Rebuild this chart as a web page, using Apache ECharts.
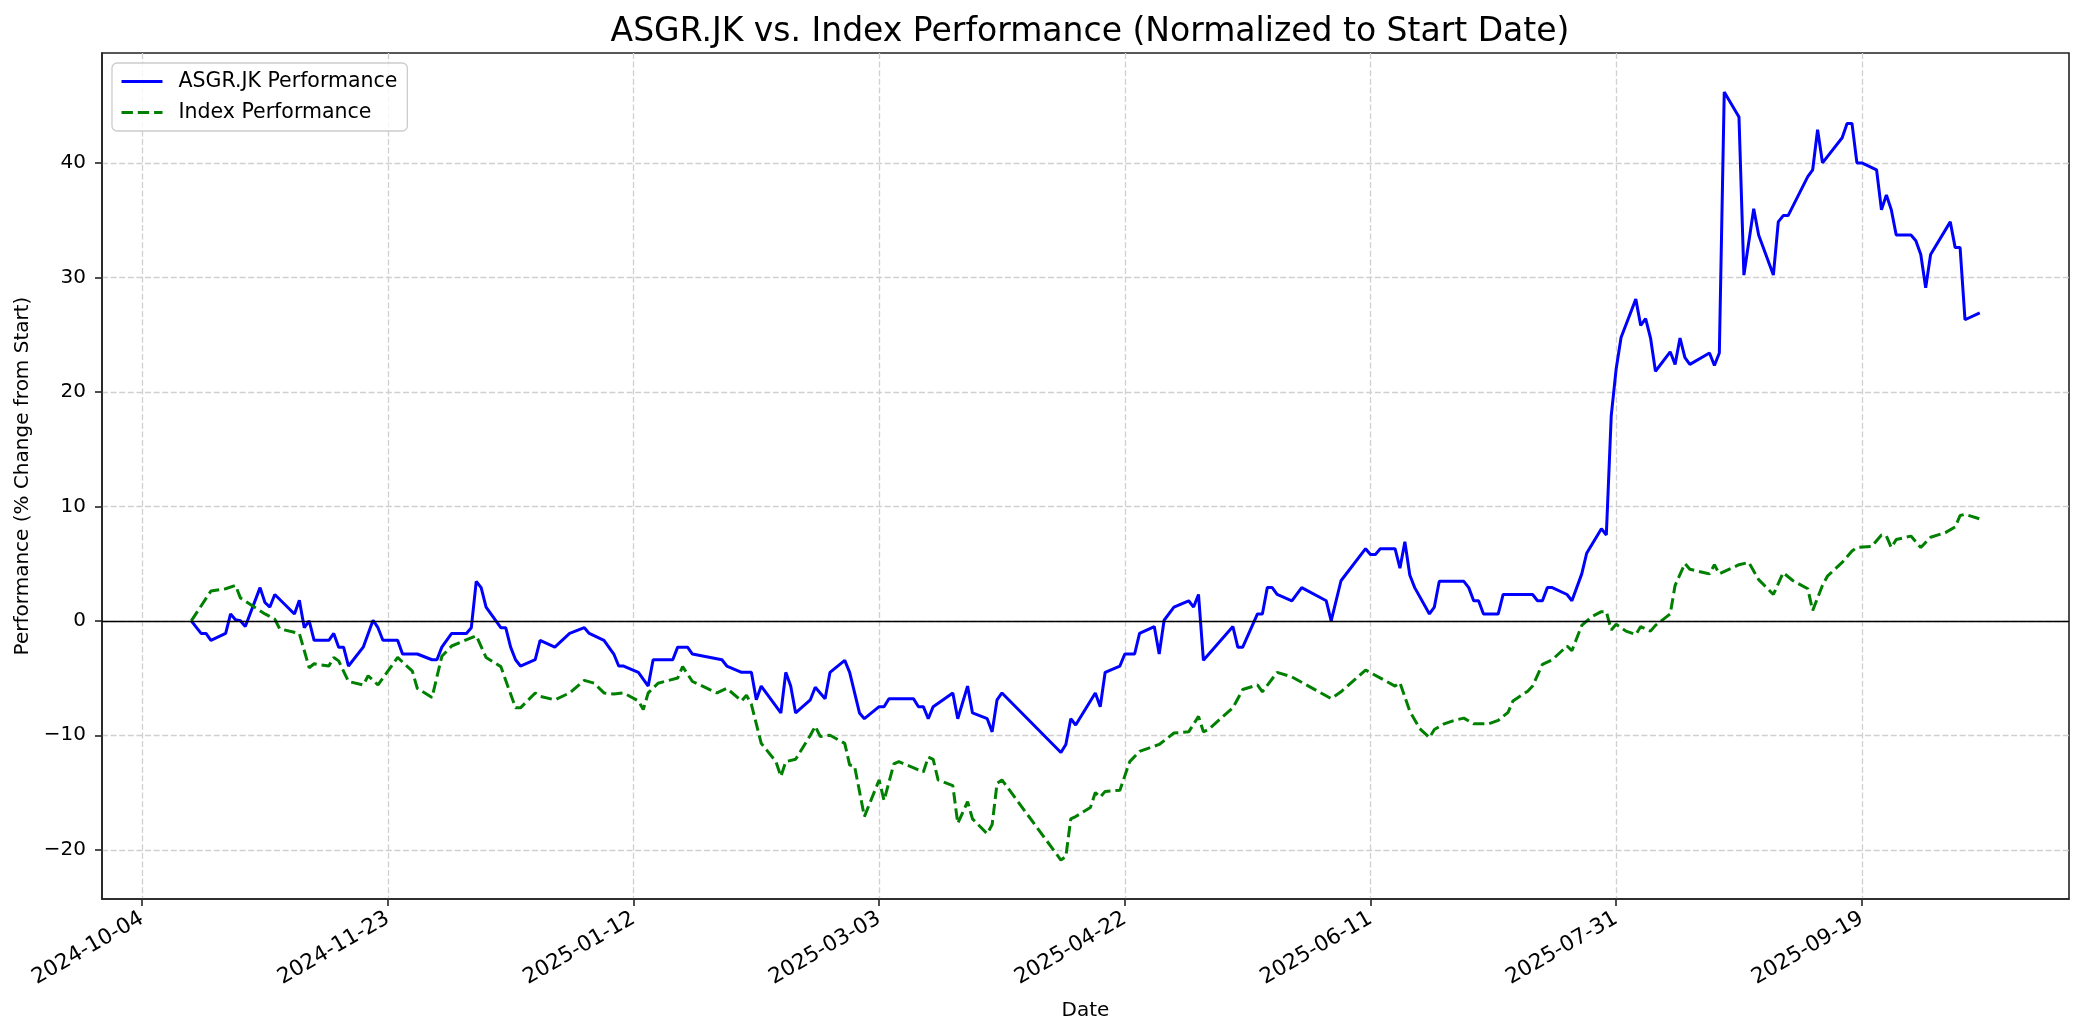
<!DOCTYPE html>
<html><head><meta charset="utf-8">
<script src="https://cdn.jsdelivr.net/npm/echarts@6/dist/echarts.min.js"></script>
<style>html,body{margin:0;padding:0;background:#fff}#c{width:2084px;height:1035px}</style>
</head><body><div id="c"></div>
<script>
const asgrDates = [
'2024-10-14','2024-10-16','2024-10-17','2024-10-18','2024-10-21','2024-10-22','2024-10-23','2024-10-24','2024-10-25','2024-10-28','2024-10-29','2024-10-30','2024-10-31',
'2024-11-04','2024-11-05','2024-11-06','2024-11-07','2024-11-08','2024-11-11','2024-11-12','2024-11-13','2024-11-14','2024-11-15','2024-11-18','2024-11-20','2024-11-21','2024-11-22','2024-11-25','2024-11-26','2024-11-29',
'2024-12-02','2024-12-03','2024-12-04','2024-12-06','2024-12-09','2024-12-10','2024-12-11','2024-12-12','2024-12-13','2024-12-16','2024-12-17','2024-12-18','2024-12-19','2024-12-20','2024-12-23','2024-12-24','2024-12-27','2024-12-30',
'2025-01-02','2025-01-03','2025-01-06','2025-01-08','2025-01-09','2025-01-10','2025-01-13','2025-01-15','2025-01-16','2025-01-20','2025-01-21','2025-01-23','2025-01-24','2025-01-30','2025-01-31',
'2025-02-03','2025-02-05','2025-02-06','2025-02-07','2025-02-11','2025-02-12','2025-02-13','2025-02-14','2025-02-17','2025-02-18','2025-02-20','2025-02-21','2025-02-24','2025-02-25','2025-02-27','2025-02-28',
'2025-03-03','2025-03-04','2025-03-05','2025-03-10','2025-03-11','2025-03-12','2025-03-13','2025-03-14','2025-03-18','2025-03-19','2025-03-21','2025-03-22','2025-03-25','2025-03-26','2025-03-27','2025-03-28',
'2025-04-09','2025-04-10','2025-04-11','2025-04-12','2025-04-16','2025-04-17','2025-04-18','2025-04-21','2025-04-22','2025-04-24','2025-04-25','2025-04-28','2025-04-29','2025-04-30',
'2025-05-02','2025-05-05','2025-05-06','2025-05-07','2025-05-08','2025-05-14','2025-05-15','2025-05-16','2025-05-19','2025-05-20','2025-05-21','2025-05-22','2025-05-23','2025-05-26','2025-05-28',
'2025-06-02','2025-06-03','2025-06-05','2025-06-10','2025-06-11','2025-06-12','2025-06-13','2025-06-16','2025-06-17','2025-06-18','2025-06-19','2025-06-20','2025-06-23','2025-06-24','2025-06-25','2025-06-30',
'2025-07-01','2025-07-02','2025-07-03','2025-07-04','2025-07-07','2025-07-08','2025-07-14','2025-07-15','2025-07-16','2025-07-17','2025-07-18','2025-07-21','2025-07-22','2025-07-24','2025-07-25','2025-07-28','2025-07-29','2025-07-30','2025-07-31',
'2025-08-01','2025-08-04','2025-08-05','2025-08-06','2025-08-07','2025-08-08','2025-08-11','2025-08-12','2025-08-13','2025-08-14','2025-08-15','2025-08-19','2025-08-20','2025-08-21','2025-08-22','2025-08-25','2025-08-26','2025-08-28','2025-08-29',
'2025-09-01','2025-09-02','2025-09-03','2025-09-04','2025-09-08','2025-09-09','2025-09-10','2025-09-11','2025-09-15','2025-09-16','2025-09-17','2025-09-18','2025-09-19','2025-09-22','2025-09-23','2025-09-24','2025-09-25','2025-09-26','2025-09-29','2025-09-30',
'2025-10-01','2025-10-02','2025-10-03','2025-10-07','2025-10-08','2025-10-09','2025-10-10','2025-10-13'
];
const asgrValues = [
0,-1.1,-1.1,-1.7,-1.1,0.6,0.1,0,-0.5,2.9,1.6,1.2,2.3,
0.6,1.8,-0.6,0,-1.7,-1.7,-1.1,-2.3,-2.3,-3.95,-2.3,0.05,-0.6,-1.7,-1.7,-2.9,-2.9,
-3.4,-3.4,-2.3,-1.1,-1.1,-0.6,3.45,2.9,1.2,-0.6,-0.6,-2.3,-3.4,-3.95,-3.4,-1.7,-2.3,-1.1,
-0.6,-1.1,-1.7,-2.9,-3.95,-3.95,-4.5,-5.7,-3.4,-3.4,-2.3,-2.3,-2.9,-3.4,-3.95,
-4.5,-4.5,-6.9,-5.7,-8.05,-4.5,-5.7,-8.05,-6.9,-5.8,-6.8,-4.5,-3.45,-4.5,-8.05,-8.55,
-7.5,-7.5,-6.8,-6.8,-7.5,-7.5,-8.55,-7.5,-6.3,-8.55,-5.7,-8.05,-8.55,-9.7,-6.9,-6.3,
-11.5,-10.8,-8.55,-9.1,-6.3,-7.5,-4.5,-3.95,-2.9,-2.9,-1.1,-0.5,-2.9,0.05,
1.2,1.75,1.2,2.3,-3.45,-0.5,-2.3,-2.3,0.6,0.6,2.9,2.9,2.3,1.75,2.9,
1.75,0,3.5,6.3,5.8,5.8,6.3,6.3,4.6,6.9,4.0,2.9,0.6,1.2,3.45,3.45,
2.9,1.75,1.75,0.6,0.6,2.3,2.3,1.75,1.75,2.9,2.9,2.3,1.75,4.1,5.9,8.05,7.5,17.9,22.0,
24.75,28.1,25.8,26.4,24.7,21.8,23.5,22.4,24.7,23.0,22.4,23.4,22.3,23.4,46.2,44.0,30.2,36.0,33.7,
30.2,34.85,35.4,35.4,38.8,39.4,42.9,40.0,42.2,43.45,43.45,40.0,40.0,39.4,35.9,37.2,35.9,33.7,33.7,33.2,
32.0,29.1,32.0,34.85,32.6,32.6,26.3,26.9
];
const indexDates = [
'2024-10-14','2024-10-18','2024-10-21','2024-10-23','2024-10-24','2024-10-29','2024-10-31',
'2024-11-01','2024-11-05','2024-11-07','2024-11-08','2024-11-11','2024-11-12','2024-11-13','2024-11-15','2024-11-18','2024-11-19','2024-11-21','2024-11-25','2024-11-28','2024-11-29',
'2024-12-02','2024-12-04','2024-12-06','2024-12-11','2024-12-13','2024-12-16','2024-12-19','2024-12-20','2024-12-23','2024-12-24','2024-12-27','2024-12-30',
'2025-01-02','2025-01-04','2025-01-06','2025-01-08','2025-01-10','2025-01-13','2025-01-14','2025-01-15','2025-01-17','2025-01-21','2025-01-22','2025-01-24','2025-01-29','2025-01-31',
'2025-02-03','2025-02-04','2025-02-05','2025-02-07','2025-02-10','2025-02-11','2025-02-12','2025-02-14','2025-02-15','2025-02-17','2025-02-18','2025-02-19','2025-02-21','2025-02-24','2025-02-25','2025-02-26','2025-02-28',
'2025-03-03','2025-03-04','2025-03-06','2025-03-07','2025-03-12','2025-03-13','2025-03-14','2025-03-15','2025-03-18','2025-03-19','2025-03-21','2025-03-22','2025-03-25','2025-03-26','2025-03-27','2025-03-28',
'2025-04-09','2025-04-10','2025-04-11','2025-04-12','2025-04-15','2025-04-16','2025-04-17','2025-04-18','2025-04-21','2025-04-23','2025-04-25','2025-04-29',
'2025-05-02','2025-05-05','2025-05-07','2025-05-08','2025-05-09','2025-05-14','2025-05-16','2025-05-19','2025-05-20','2025-05-23','2025-05-26',
'2025-06-03','2025-06-05','2025-06-10','2025-06-16','2025-06-17','2025-06-19','2025-06-21','2025-06-23','2025-06-24','2025-06-26','2025-06-28','2025-06-30',
'2025-07-02','2025-07-05','2025-07-07','2025-07-09','2025-07-10','2025-07-13','2025-07-14','2025-07-16','2025-07-18','2025-07-21','2025-07-22','2025-07-23','2025-07-24','2025-07-26','2025-07-28','2025-07-29','2025-07-30','2025-07-31',
'2025-08-02','2025-08-04','2025-08-05','2025-08-07','2025-08-08','2025-08-11','2025-08-12','2025-08-14','2025-08-15','2025-08-18','2025-08-19','2025-08-20','2025-08-21','2025-08-25','2025-08-27','2025-08-29',
'2025-09-01','2025-09-03','2025-09-05','2025-09-08','2025-09-09','2025-09-11','2025-09-12','2025-09-15','2025-09-17','2025-09-18','2025-09-21','2025-09-23','2025-09-24','2025-09-25','2025-09-26','2025-09-29',
'2025-10-01','2025-10-03','2025-10-06','2025-10-08','2025-10-09','2025-10-10','2025-10-13'
];
const indexValues = [
0,2.6,2.8,3.1,2.0,0.6,0.15,
-0.7,-1.1,-4.1,-3.75,-3.95,-3.2,-3.5,-5.3,-5.6,-4.8,-5.6,-3.2,-4.4,-5.9,
-6.7,-3.1,-2.2,-1.3,-3.2,-4.0,-7.6,-7.6,-6.3,-6.6,-6.9,-6.3,
-5.2,-5.45,-6.3,-6.4,-6.3,-7.0,-7.75,-6.3,-5.45,-5.0,-4.0,-5.3,-6.3,-5.9,
-7.0,-6.5,-7.3,-10.7,-12.3,-13.6,-12.3,-12.1,-11.4,-10.0,-9.2,-10.1,-10.0,-10.7,-12.6,-12.7,-17.1,
-13.9,-15.7,-12.5,-12.3,-13.2,-11.9,-12.1,-13.9,-14.4,-17.7,-15.8,-17.3,-18.6,-17.8,-14.2,-13.9,
-20.9,-20.6,-17.3,-17.1,-16.3,-15.0,-15.4,-14.9,-14.8,-12.3,-11.4,-10.8,
-9.8,-9.7,-8.35,-9.7,-9.5,-7.6,-6.0,-5.6,-6.2,-4.5,-4.9,
-6.8,-6.2,-4.3,-5.7,-5.4,-7.9,-9.4,-10.2,-9.5,-9.0,-8.7,-8.5,
-9.0,-9.0,-8.7,-8.0,-7.0,-6.15,-5.7,-3.8,-3.4,-2.2,-2.6,-1.5,-0.4,0.35,0.8,0.8,-0.8,-0.3,
-0.9,-1.2,-0.5,-0.9,-0.4,0.6,3.1,5.0,4.5,4.2,4.1,4.9,4.1,4.9,5.1,3.6,
2.3,4.2,3.5,2.8,0.9,3.1,3.9,5.1,6.1,6.4,6.5,7.5,7.4,6.4,7.1,7.4,
6.4,7.3,7.7,8.2,9.2,9.3,8.9
];
const xTickLabels = ['2024-10-04','2024-11-23','2025-01-12','2025-03-03','2025-04-22','2025-06-11','2025-07-31','2025-09-19'];
const yTickValues = [-20,-10,0,10,20,30,40];

const FONT = 'DejaVu Sans';
const toTs = s => new Date(s + 'T00:00:00').getTime();
const xTicks = xTickLabels.map(toTs);
const pad2 = n => (n < 10 ? '0' : '') + n;
const fmtDate = v => { const d = new Date(v); return d.getFullYear() + '-' + pad2(d.getMonth() + 1) + '-' + pad2(d.getDate()); };

const chart = echarts.init(document.getElementById('c'), null, { renderer: 'canvas' });
chart.setOption({
  animation: false,
  backgroundColor: '#ffffff',
  title: {
    text: 'ASGR.JK vs. Index Performance (Normalized to Start Date)',
    left: 1085, top: 11, textAlign: 'center',
    textStyle: { fontFamily: FONT, fontSize: 33, fontWeight: 'normal', color: '#000' }
  },
  legend: {
    left: 112, top: 63, orient: 'vertical',
    backgroundColor: 'rgba(255,255,255,0.8)', borderColor: '#cccccc', borderWidth: 1.3, borderRadius: 5,
    padding: [8, 10, 8, 8], itemGap: 10, itemWidth: 41, itemHeight: 20,
    itemStyle: { opacity: 0, borderWidth: 0 },
    lineStyle: { width: 3 },
    textStyle: { fontFamily: FONT, fontSize: 20.5, color: '#000', padding: [0, 0, 0, 11] },
    data: ['ASGR.JK Performance', 'Index Performance']
  },
  grid: { left: 102, right: 15, top: 53, bottom: 136, show: true, borderColor: '#222', borderWidth: 1.6, containLabel: false },
  xAxis: {
    type: 'value',
    min: new Date(2024, 8, 25, 20, 0).getTime(),
    max: new Date(2025, 9, 31, 4, 0).getTime(),
    name: 'Date', nameLocation: 'middle', nameGap: 102,
    nameTextStyle: { fontFamily: FONT, fontSize: 20, color: '#000' },
    axisLine: { show: true, onZero: false, lineStyle: { color: '#222', width: 1.6 } },
    axisTick: { show: true, inside: false, length: 7, lineStyle: { color: '#222', width: 1.6 }, customValues: xTicks },
    axisLabel: { show: true, rotate: 30, margin: 18, fontFamily: FONT, fontSize: 21.5, color: '#000', customValues: xTicks, formatter: v => fmtDate(v), hideOverlap: false },
    splitLine: { show: true, lineStyle: { color: '#d0d0d0', width: 1.3, type: [6, 2.6] } }
  },
  yAxis: {
    type: 'value', min: -24.3, max: 49.6,
    name: 'Performance (% Change from Start)', nameLocation: 'middle', nameGap: 65, nameRotate: 90,
    nameTextStyle: { fontFamily: FONT, fontSize: 20, color: '#000' },
    axisLine: { show: true, onZero: false, lineStyle: { color: '#222', width: 1.6 } },
    axisTick: { show: true, inside: false, length: 7, lineStyle: { color: '#222', width: 1.6 }, customValues: yTickValues },
    axisLabel: { show: true, margin: 16, fontFamily: FONT, fontSize: 20, color: '#000', customValues: yTickValues, formatter: v => String(v).replace('-', '\u2212') },
    splitLine: { show: true, lineStyle: { color: '#d0d0d0', width: 1.3, type: [6, 2.6] } }
  },
  series: [
    {
      name: 'ASGR.JK Performance', type: 'line', symbol: 'none', showSymbol: false,
      lineStyle: { color: '#0000ff', width: 3 }, itemStyle: { color: '#0000ff' },
      data: asgrDates.map((d, i) => [toTs(d), asgrValues[i]]), z: 3
    },
    {
      name: 'Index Performance', type: 'line', symbol: 'none', showSymbol: false,
      lineStyle: { color: '#008000', width: 3, type: [11.4, 4.9] }, itemStyle: { color: '#008000' },
      data: indexDates.map((d, i) => [toTs(d), indexValues[i]]), z: 4,
      markLine: {
        silent: true, symbol: ['none', 'none'], label: { show: false },
        lineStyle: { color: '#000', width: 1.3, type: 'solid' },
        data: [{ yAxis: 0 }]
      }
    }
  ]
});
</script>
</body></html>
